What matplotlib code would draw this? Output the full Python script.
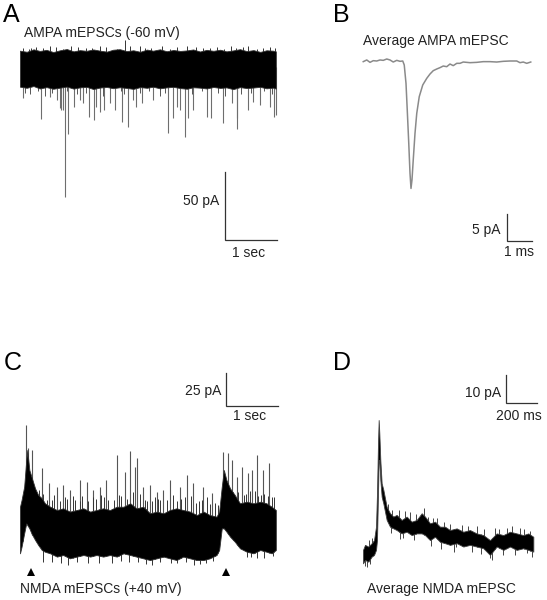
import matplotlib
matplotlib.use('Agg')
import matplotlib.pyplot as plt
import numpy as np

plt.rcParams['font.family'] = ['Liberation Sans', 'DejaVu Sans']

W, H = 547, 600

# ---------------- Panel A: AMPA mEPSCs (time in s, current in pA) ----------------
a_t = [0.00, 0.13, 0.26, 0.38, 0.51, 0.64, 0.77, 0.90, 1.03, 1.15, 1.28, 1.41, 1.54, 1.67,
       1.79, 1.92, 2.05, 2.18, 2.31, 2.44, 2.56, 2.69, 2.82, 2.95, 3.08, 3.21, 3.33, 3.46,
       3.59, 3.72, 3.85, 3.97, 4.10, 4.23, 4.36, 4.49, 4.62, 4.74, 4.87, 4.92]
a_upper = [12.0, 11.2, 13.0, 11.8, 12.6, 11.0, 12.3, 13.2, 11.5, 12.4, 11.9, 12.9, 12.0, 11.3,
           12.7, 13.1, 11.7, 12.3, 11.2, 12.8, 12.0, 13.0, 11.6, 12.5, 11.8, 12.2, 12.9, 11.4,
           12.6, 11.9, 12.7, 11.5, 12.2, 13.1, 11.7, 12.4, 11.1, 12.3, 12.0, 11.5]
a_lower = [-14.5, -15.3, -14.0, -15.8, -14.8, -16.0, -15.2, -14.4, -15.9, -15.0, -14.6, -16.2,
           -15.1, -14.7, -15.6, -14.9, -15.4, -16.1, -14.8, -15.3, -14.5, -15.7, -15.0, -14.6,
           -15.5, -16.0, -14.9, -15.2, -15.8, -14.7, -15.4, -15.0, -16.3, -14.8, -15.5, -15.1,
           -14.6, -15.7, -15.2, -15.9]
a_event_t = [0.06, 0.40, 0.58, 0.71, 0.76, 0.79, 0.82, 0.87, 0.92, 1.04, 1.15, 1.22, 1.33,
             1.43, 1.47, 1.53, 1.62, 1.73, 1.83, 1.97, 2.08, 2.17, 2.24, 2.34, 2.56, 2.85,
             2.94, 3.01, 3.08, 3.17, 3.24, 3.33, 3.59, 3.67, 3.91, 4.07, 4.17, 4.18, 4.39,
             4.49, 4.62, 4.81, 4.89, 4.92]
a_event_amp = [-23.0, -38.5, -21.8, -24.3, -30.4, -31.6, -31.6, -95.3, -49.5, -29.7, -24.3,
               -26.7, -36.5, -39.0, -29.2, -32.8, -31.6, -26.7, -31.6, -40.2, -43.9, -24.3,
               -29.2, -26.7, -24.3, -48.8, -37.7, -29.2, -31.6, -51.2, -37.7, -31.6, -36.5,
               -37.7, -41.4, -26.7, -37.7, -45.8, -31.6, -25.5, -27.9, -29.2, -37.0, -35.3]
a_noise_up_t = [0.22, 0.58, 1.12, 1.54, 2.02, 2.31, 3.21, 3.78, 4.39, 4.68,
                0.05, 0.17, 0.31, 0.45, 0.69, 0.83, 0.98, 1.27, 1.38, 1.66, 1.86, 2.12, 2.40,
                2.52, 2.74, 2.88, 3.02, 3.39, 3.52, 3.65, 3.92, 4.05, 4.16, 4.28, 4.55, 4.80,
                4.90]
a_noise_up_amp = [14.0, 15.2, 14.5, 15.2, 19.9, 15.2, 15.2, 14.7, 15.2, 14.0,
                  14.2, 13.6, 15.0, 13.8, 14.6, 13.4, 15.5, 14.0, 13.7, 14.8, 13.5, 15.1, 14.3,
                  13.9, 15.3, 13.6, 14.5, 15.0, 13.8, 14.2, 13.5, 15.4, 14.0, 14.7, 13.6, 14.9,
                  14.1]
a_noise_down_t = [0.10, 0.20, 0.34, 0.48, 0.62, 0.90, 1.10, 1.26, 1.60, 1.95, 2.00, 2.30,
                  2.48, 2.70, 2.78, 3.30, 3.50, 3.80, 3.95, 4.25, 4.45, 4.70, 4.85]
a_noise_down_amp = [-19, -20, -18, -21, -19, -18, -20, -19, -21, -18, -20, -19, -18, -21, -19,
                    -20, -18, -19, -21, -20, -19, -18, -20]

# ---------------- Panel B: average AMPA mEPSC (time in ms, current in pA) ----------------
b_t = [0.01, 0.15, 0.28, 0.41, 0.55, 0.68, 0.81, 0.95, 1.08, 1.21, 1.35, 1.48, 1.59, 1.65,
       1.72, 1.77, 1.83, 1.88, 1.92, 1.96, 2.01, 2.08, 2.15, 2.25, 2.39, 2.55, 2.68, 2.81,
       2.95, 3.08, 3.21, 3.35, 3.48, 3.61, 3.75, 3.88, 4.01, 4.28, 4.55, 4.81, 5.08, 5.35,
       5.61, 5.88, 6.15, 6.28, 6.41, 6.55, 6.71]
b_amp = [-0.12, 0.19, -0.25, 0.06, 0.0, 0.19, 0.12, 0.37, 0.19, -0.19, 0.12, -0.06, 0.0, -0.74,
         -4.14, -9.07, -15.2, -20.8, -23.6, -22.0, -18.3, -13.4, -9.7, -6.6, -4.44, -3.21,
         -2.41, -1.79, -1.48, -1.23, -0.93, -1.05, -0.56, -0.86, -0.43, -0.43, -0.19, -0.31,
         -0.25, -0.12, -0.12, -0.19, -0.06, 0.0, 0.0, -0.31, -0.19, -0.43, -0.19]

# ---------------- Panel C: NMDA mEPSCs (time in s, current in pA) ----------------
c_t = [0.00, 0.03, 0.08, 0.12, 0.14, 0.18, 0.22, 0.29, 0.35, 0.42, 0.48, 0.58, 0.71, 0.83,
       0.96, 1.09, 1.22, 1.35, 1.47, 1.60, 1.73, 1.86, 1.99, 2.12, 2.24, 2.37, 2.50, 2.63,
       2.76, 2.88, 3.01, 3.14, 3.27, 3.40, 3.53, 3.65, 3.78, 3.83, 3.88, 3.92, 3.97, 4.04,
       4.13, 4.23, 4.36, 4.49, 4.62, 4.74, 4.84, 4.92]
c_upper = [29.0, 34.1, 44.2, 64.4, 72.0, 56.8, 51.8, 42.9, 37.9, 35.4, 31.6, 29.0, 26.5, 27.8,
           25.3, 26.5, 27.8, 25.3, 26.5, 27.8, 26.5, 29.0, 29.0, 31.6, 27.8, 29.0, 24.0, 25.3,
           24.0, 26.5, 27.8, 26.5, 25.3, 22.7, 25.3, 22.7, 21.5, 25.3, 44.2, 56.8, 49.2, 42.9,
           37.9, 31.6, 32.8, 31.6, 32.8, 31.6, 29.0, 26.5]
c_lower = [-6.3, -1.3, 8.8, 16.4, 15.2, 12.6, 8.8, 3.8, 0.0, -3.8, -5.1, -6.3, -8.8, -7.6,
           -10.1, -8.8, -7.6, -8.8, -7.6, -8.8, -7.6, -8.8, -6.3, -7.6, -8.8, -10.1, -11.4,
           -10.1, -8.8, -10.1, -11.4, -8.8, -10.1, -11.4, -11.4, -10.1, -7.6, -3.8, 12.6, 12.6,
           10.1, 6.3, 2.5, -2.5, -5.1, -6.3, -3.8, -5.1, -6.3, -3.8]
c_event_t = [0.115, 0.147, 0.237, 0.417, 0.564, 0.705, 0.821, 0.962, 1.154, 1.282, 1.397,
             1.538, 1.654, 1.872, 2.019, 2.115, 2.212, 2.256, 2.372, 2.500, 2.628, 2.756,
             2.885, 3.077, 3.205, 3.333, 3.526, 3.686, 3.897, 4.006, 4.071, 4.179, 4.263,
             4.391, 4.468, 4.551, 4.679, 4.795]
c_event_amp = [90.9, 73.2, 72.0, 58.1, 46.7, 44.2, 45.5, 41.7, 49.2, 48.0, 41.7, 44.2, 49.2,
               68.2, 55.6, 71.5, 59.3, 65.7, 44.2, 45.5, 40.4, 41.7, 49.2, 44.2, 53.0, 46.7,
               44.2, 39.1, 70.7, 69.4, 64.4, 51.8, 59.3, 54.3, 56.8, 68.2, 56.8, 61.9]
c_small_t = [0.30, 0.52, 0.66, 0.90, 1.02, 1.15, 1.40, 1.56, 1.80, 1.95, 2.05, 2.30, 2.45,
             2.60, 2.70, 2.95, 3.10, 3.28, 3.45, 3.60, 3.75, 4.10, 4.30, 4.42, 4.58, 4.70, 4.88,
             0.05, 0.37, 0.45, 0.61, 0.76, 0.86, 1.06, 1.20, 1.31, 1.47, 1.62, 1.70, 1.90,
             2.18, 2.40, 2.54, 2.66, 2.82, 3.02, 3.17, 3.38, 3.50, 3.66, 3.80, 4.05, 4.20,
             4.35, 4.52, 4.64, 4.76, 4.85]
c_small_amp = [36, 34, 38, 35, 37, 33, 36, 38, 34, 37, 35, 39, 33, 36, 34, 38, 35, 37, 33, 36,
               32, 40, 38, 41, 37, 39, 36,
               35, 42, 39, 34, 33, 36, 34, 37, 33, 35, 36, 34, 38, 40, 34, 33, 35, 34, 33,
               36, 32, 34, 31, 30, 42, 40, 39, 41, 38, 37, 36]
c_down_t = [0.449, 0.929, 1.763, 2.276, 2.532, 3.013, 3.462, 4.359, 4.551,
            0.62, 0.78, 1.10, 1.30, 1.52, 1.95, 2.10, 2.42, 2.70, 2.90, 3.20, 3.35, 3.58,
            3.72, 4.45, 4.70, 4.86]
c_down_amp = [-12.6, -15.2, -13.9, -12.6, -15.2, -13.9, -14.4, -8.8, -10.1,
              -13.0, -14.0, -12.5, -13.5, -14.0, -12.0, -13.0, -14.5, -13.0, -14.0, -12.5,
              -15.0, -13.5, -12.0, -9.0, -9.5, -8.0]
c_marker_t = [0.21, 3.96]
c_marker_amp = [-20.2, -20.2]

# ---------------- Panel D: average NMDA mEPSC (time in ms, current in pA) ----------------
d_t = [0, 12.9, 34.4, 55.9, 71.0, 83.9, 90.3, 96.8, 101.1, 105.4, 111.8, 120.4, 131.2, 152.7,
       174.2, 195.7, 217.2, 249.5, 281.7, 314.0, 346.2, 378.5, 400.0, 432.3, 464.5, 496.8,
       529.0, 561.3, 604.3, 647.3, 690.3, 733.3, 776.3, 819.4, 862.4, 905.4, 948.4, 991.4,
       1034.4, 1066.7, 1098.9]
d_upper = [1.1, 2.9, 2.3, 3.5, 4.6, 9.4, 21.3, 39.2, 47.5, 42.7, 33.2, 24.9, 22.6, 16.5, 14.2,
           13.0, 13.6, 11.8, 13.0, 11.2, 11.8, 14.2, 13.0, 10.6, 11.2, 9.4, 9.4, 8.2, 8.8, 7.6,
           8.2, 7.0, 6.4, 4.6, 7.0, 6.4, 7.6, 7.0, 6.4, 7.0, 5.8]
d_lower = [-3.7, -2.5, -3.1, -1.3, -0.7, 1.1, 4.6, 21.3, 33.2, 33.2, 26.1, 20.1, 17.7, 11.8,
           9.4, 8.8, 8.2, 7.0, 7.6, 6.4, 7.0, 7.0, 6.4, 4.6, 5.8, 4.0, 3.5, 2.9, 3.5, 2.3, 2.9,
           2.3, 1.7, -0.7, 2.3, 1.1, 2.3, 1.1, 1.7, 1.1, 0.5]
d_up_t = [232, 271, 396, 454, 520, 733, 927, 1010,
          40, 60, 160, 190, 300, 340, 420, 480, 560, 640, 680, 780, 850, 880, 960, 1040, 1080]
d_up_amp = [15.5, 15.0, 16.0, 12.5, 11.0, 9.8, 9.0, 8.8,
            4.5, 5.5, 17.5, 15.5, 14.5, 14.0, 13.0, 12.5, 10.5, 10.0, 9.5, 8.5, 9.0, 8.5,
            9.5, 8.5, 8.0]
d_down_t = [13, 260, 600, 819, 1060,
            25, 45, 180, 240, 330, 440, 500, 590, 700, 760, 830, 900, 980, 1090]
d_down_amp = [-4.5, 5.5, 2.0, -1.8, 0.0,
              -5.0, -4.0, 7.0, 5.0, 4.5, 2.5, 1.5, 0.5, 0.5, -0.5, -2.5, -0.8, -0.8, -1.5]

TXT = '#222222'
BAR = '#333333'

fig = plt.figure(figsize=(W / 100, H / 100), dpi=100)


def panel(box, origin, scale):
    x0, y0, x1, y1 = box
    ox, oy = origin
    sx, sy = scale
    ax = fig.add_axes([x0 / W, 1 - y1 / H, (x1 - x0) / W, (y1 - y0) / H])
    ax.set_xlim((x0 - ox) / sx, (x1 - ox) / sx)
    ax.set_ylim((oy - y1) / sy, (oy - y0) / sy)
    ax.axis('off')
    return ax


def scalebar(ax, x, y, dx, dy, ylab, xlab, yoff, xoff):
    ax.plot([x, x, x + dx], [y + dy, y, y], color=BAR, lw=0.9, solid_joinstyle='miter')
    ax.annotate(ylab, (x, y + dy / 2), xytext=yoff, textcoords='offset pixels',
                ha='right', va='baseline', fontsize=10, color=TXT)
    ax.annotate(xlab, (x + dx / 2, y), xytext=xoff, textcoords='offset pixels',
                ha='center', va='baseline', fontsize=10, color=TXT)


def ftext(x, y, s, **kw):
    fig.text(x / W, 1 - y / H, s, **kw)


# ---- A ----
axA = panel((10, 30, 290, 270), (20, 67), (52, 1.36))
axA.vlines(a_event_t, 0, a_event_amp, color='#6e6e6e', lw=0.8, zorder=1)
axA.vlines(a_noise_down_t, 0, a_noise_down_amp, color='#555555', lw=0.7, zorder=1)
axA.vlines(a_noise_up_t, 0, a_noise_up_amp, color='#333333', lw=0.7, zorder=1)
axA.fill_between(a_t, a_lower, a_upper, color='black', lw=0.6, edgecolor='#333333', zorder=2)
scalebar(axA, 3.94, -127.2, 1, 50, '50 pA', '1 sec', (-6, 1), (-2, -17))

# ---- B ----
axB = panel((340, 40, 547, 270), (363, 61), (25, 5.4))
axB.plot(b_t, b_amp, color='#8a8a8a', lw=1.1)
scalebar(axB, 5.76, -33.3, 1, 5, '5 pA', '1 ms', (-6, -7), (-1, -15))

# ---- C ----
axC = panel((10, 365, 290, 600), (20, 545), (52, 1.32))
axC.vlines(c_event_t, np.interp(c_event_t, c_t, c_lower), c_event_amp,
           color='#555555', lw=0.8, zorder=1)
axC.vlines(c_small_t, np.interp(c_small_t, c_t, c_lower), c_small_amp,
           color='#333333', lw=0.7, zorder=1)
axC.vlines(c_down_t, np.interp(c_down_t, c_t, c_upper), c_down_amp,
           color='#333333', lw=0.7, zorder=1)
axC.fill_between(c_t, c_lower, c_upper, color='black', lw=0.6, edgecolor='#333333', zorder=2)
axC.plot(c_marker_t, c_marker_amp, ls='none', marker='^', ms=5.5, color='black', mew=0)
scalebar(axC, 3.96, 105.3, 1, 25, '25 pA', '1 sec', (-5, -5), (-2, -14))

# ---- D ----
axD = panel((295, 365, 547, 600), (363, 553), (0.155, 2.8))
axD.vlines(d_up_t, np.interp(d_up_t, d_t, d_lower), d_up_amp, color='#444444', lw=0.7, zorder=1)
axD.vlines(d_down_t, np.interp(d_down_t, d_t, d_upper), d_down_amp, color='#444444', lw=0.7,
           zorder=1)
axD.fill_between(d_t, d_lower, d_upper, color='black', lw=0.6, edgecolor='#444444', zorder=2)
scalebar(axD, 922.6, 53.6, 200, 10, '10 pA', '200 ms', (-5, -8), (-3, -17))

# ---- texts ----
for x, y, s in [(3, 22, 'A'), (333, 22, 'B'), (4, 370, 'C'), (333, 370, 'D')]:
    ftext(x, y, s, fontsize=18, color='black', ha='left', va='baseline')
ftext(24, 37, 'AMPA mEPSCs (-60 mV)', fontsize=10, color=TXT, ha='left', va='baseline')
ftext(363, 45, 'Average AMPA mEPSC', fontsize=10, color=TXT, ha='left', va='baseline')
ftext(20, 593, 'NMDA mEPSCs (+40 mV)', fontsize=10, color=TXT, ha='left', va='baseline')
ftext(367, 593, 'Average NMDA mEPSC', fontsize=10, color=TXT, ha='left', va='baseline')

fig.savefig('out.png', dpi=100)
